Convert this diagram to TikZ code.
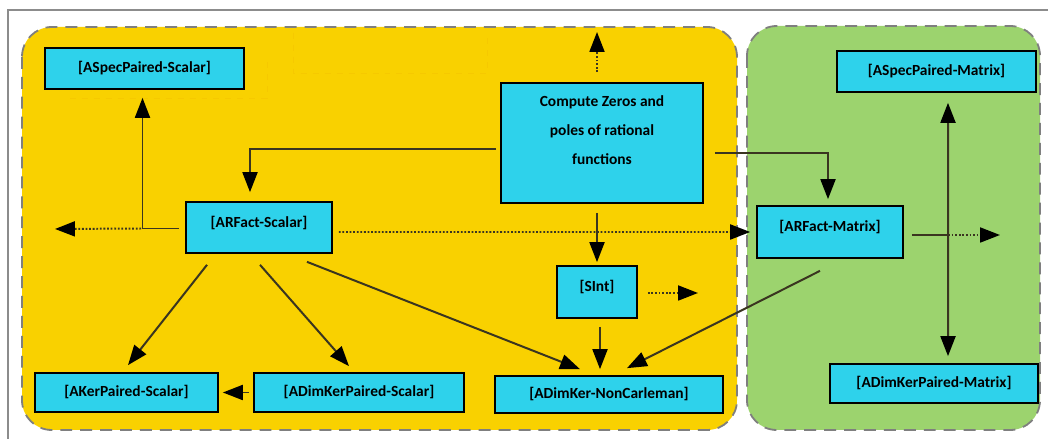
\documentclass[tikz,border=0pt]{standalone}
\usepackage{fontspec}
\setmainfont{Carlito}
\usetikzlibrary{arrows.meta,calc}
\definecolor{groupyellow}{HTML}{F9D100}
\definecolor{groupgreen}{HTML}{9CD36E}
\definecolor{boxcyan}{HTML}{2ED2EB}
\definecolor{groupedge}{HTML}{7F7F7F}
\definecolor{faintorange}{HTML}{F2B800}
\definecolor{linkcol}{HTML}{3A3520}
\tikzset{
  tip/.tip={Triangle[length=20pt,width=15pt,color=black]},
  box/.style={draw=black, line width=1.7pt, fill=boxcyan, inner sep=0pt,
    font=\fontsize{15.5}{18}\selectfont\bfseries},
  group/.style={draw=groupedge, line width=1.8pt, dash pattern=on 12pt off 8pt,
    rounded corners=30pt},
  conn/.style={draw=linkcol, line width=2pt, -tip},
  dotconn/.style={conn, dash pattern=on 1.8pt off 1.8pt},
  dbconn/.style={draw=linkcol, line width=2pt, tip-tip},
  plain/.style={draw=linkcol, line width=2pt},
}
\newcommand{\lift}[1]{\raisebox{5pt}[\height][\depth]{#1}}
\begin{document}
\begin{tikzpicture}[x=1bp,y=-1bp]
\useasboundingbox (0,0) rectangle (1048,439);
\fill[white] (0,0) rectangle (1048,439);
% outer frame
\draw[draw=black!45, line width=1.2pt] (1048,10) -- (8,10) -- (8,439);

% group areas
\filldraw[group, fill=groupyellow] (22,27) rectangle (737,430);
\filldraw[group, fill=groupgreen] (747,26) rectangle (1040,430);

% faint guide outlines
\draw[faintorange, line width=0.8pt, dash pattern=on 6pt off 6pt, opacity=0.3]
  (70,98) -- (267,98) -- (267,57);
\draw[faintorange, line width=0.8pt, dash pattern=on 6pt off 6pt, opacity=0.3]
  (293,33) -- (293,73) -- (487,73) -- (487,33);

% boxes
\node[box, minimum width=199bp, minimum height=41bp] (aspS) at (144.5,68.5) {[ASpecPaired-Scalar]};
\node[box, minimum width=146bp, minimum height=51bp] (arfS) at (259,227.5) {\lift{[ARFact-Scalar]}};
\node[box, minimum width=202bp, minimum height=120bp] (comp) at (602,143) {};
\node[font=\fontsize{15.5}{29}\selectfont\bfseries, align=center, inner sep=0pt] (comptext)
  at (602,130) {Compute Zeros and\\poles of rational\\functions};
\node[box, minimum width=199bp, minimum height=41bp] (aspM) at (936.5,71.5) {[ASpecPaired-Matrix]};
\node[box, minimum width=146bp, minimum height=52bp] (arfM) at (830,232) {\lift{[ARFact-Matrix]}};
\node[box, minimum width=80bp, minimum height=52bp] (sint) at (597,292) {\lift{[SInt]}};
\node[box, minimum width=228bp, minimum height=37bp] (adkN) at (609,394.5) {[ADimKer-NonCarleman]};
\node[box, minimum width=183bp, minimum height=39bp] (akS) at (126.5,392.5) {[AKerPaired-Scalar]};
\node[box, minimum width=210bp, minimum height=39bp] (adkS) at (359,392.5) {[ADimKerPaired-Scalar]};
\node[box, minimum width=208bp, minimum height=39bp] (adkM) at (934,383.5) {[ADimKerPaired-Matrix]};

% free ends of the open connectors
\coordinate (compup) at (597,32);
\coordinate (leftend) at (55,229);
\coordinate (sintright) at (698,293);
\coordinate (arfMcross) at (948,235);
\coordinate (arfMright) at (1000,235);

% connectors
\draw[conn] ($(comp.west)+(-4,6)$) -| ($(arfS.north)+(-9,-9)$);
\draw[conn] ($(comp.east)+(11,10)$) -| ($(arfM.north)+(-2,-6)$);
\draw[conn] ($(comp.south)+(-5,9)$) -- ($(sint.north)+(0,-3)$);
\draw[dotconn] ($(comp.north)+(-5,-10)$) -- (compup);
\draw[conn] ($(arfS.west)+(-6,1)$) -| ($(aspS.south)+(-2,8)$);
\draw[dotconn] ($(arfS.west)+(-44,1)$) -- (leftend);
\draw[dotconn] ($(arfS.east)+(6,4.5)$) -- ($(arfM.west)+(-6,0)$);
\draw[conn] ($(arfS.south)+(-52,11)$) -- ($(akS.north)+(1.5,-7)$);
\draw[conn] ($(arfS.south)+(1,11)$) -- ($(adkS.north)+(-10,-6)$);
\draw[conn] ($(arfS.south)+(48,8)$) -- ($(adkN.north)+(-29,-6)$);
\draw[conn] ($(adkS.west)+(-4,0)$) -- ($(akS.east)+(4,0)$);
\draw[conn] ($(sint.south)+(3,8)$) -- ($(adkN.north)+(-9,-6)$);
\draw[conn] ($(arfM.south)+(-10,12)$) -- ($(adkN.north)+(18,-7)$);
\draw[dotconn] ($(sint.east)+(10,1)$) -- (sintright);
\draw[plain] ($(arfM.east)+(8,3)$) -- (arfMcross);
\draw[dotconn] (arfMcross) -- (arfMright);
\draw[dbconn] ($(aspM.south)+(11.5,10)$) -- ($(adkM.north)+(14,-7)$);
\end{tikzpicture}
\end{document}
